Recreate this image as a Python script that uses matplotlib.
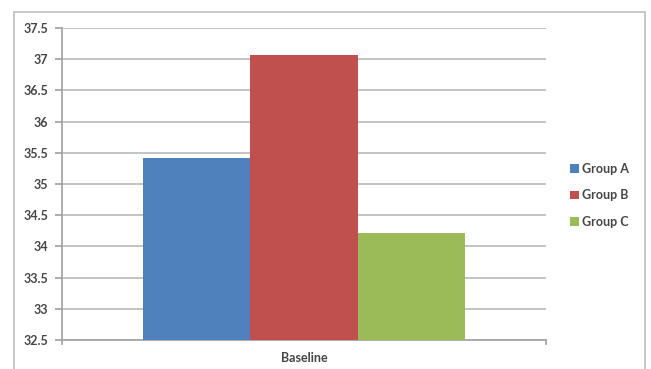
import matplotlib
matplotlib.use("Agg")
import matplotlib.pyplot as plt
from matplotlib.patches import Rectangle
import numpy as np

plt.rcParams['font.family'] = ['Lato', 'DejaVu Sans']

categories = ["Baseline"]
groups = ["Group A", "Group B", "Group C"]
values = [35.42, 37.07, 34.21]
colors = ["#4F81BD", "#C0504D", "#9BBB59"]
y_ticks = [32.5, 33, 33.5, 34, 34.5, 35, 35.5, 36, 36.5, 37, 37.5]
y_labels = ["32.5", "33", "33.5", "34", "34.5", "35", "35.5", "36", "36.5", "37", "37.5"]

TEXT_COLOR = "#454545"
FS = 9

W, H = 651, 369
fig = plt.figure(figsize=(W / 100, H / 100), dpi=100)
fig.patch.set_facecolor("white")

# outer chart frame
fig.patches.append(Rectangle((14 / W, -0.05), (645 - 14) / W, 1.05 - 12 / H,
                             transform=fig.transFigure, fill=False,
                             edgecolor="#C4C4C4", linewidth=1.3))

ax = fig.add_axes([62 / W, (H - 340) / H, (546 - 62) / W, (340 - 28) / H])

# Excel-style clustered columns: gap width 150%
n = len(groups)
gap = 1.5
bar_w = 1.0 / (n + gap)
x0 = 0.0
for i, (g, v, c) in enumerate(zip(groups, values, colors)):
    xpos = x0 - 0.5 + gap * bar_w / 2 + (i + 0.5) * bar_w
    ax.bar(xpos, v - y_ticks[0], bottom=y_ticks[0], width=bar_w,
           color=c, label=g, zorder=3, linewidth=0)

ax.set_xlim(-0.5, 0.5)
ax.set_ylim(y_ticks[0], y_ticks[-1])
ax.set_yticks(y_ticks)
ax.set_yticklabels(y_labels, fontweight="bold")
ax.set_xticks([0])
ax.set_xticklabels(categories, fontweight="bold")

ax.yaxis.grid(True, color="#BEBEBE", linewidth=1.3, zorder=0)
ax.set_axisbelow(True)
for s in ["top", "right"]:
    ax.spines[s].set_visible(False)
for s in ["left", "bottom"]:
    ax.spines[s].set_color("#A6A6A6")
    ax.spines[s].set_linewidth(1.3)

ax.tick_params(axis="y", length=5, color="#A6A6A6", width=1.3,
               labelsize=FS, labelcolor=TEXT_COLOR, pad=5)
ax.tick_params(axis="x", length=0, labelsize=FS, labelcolor=TEXT_COLOR, pad=9)
# category boundary ticks on the x axis
for xb in (-0.5, 0.5):
    ax.plot([xb, xb], [0, -0.012], transform=ax.get_xaxis_transform(),
            color="#A6A6A6", linewidth=1.3, clip_on=False)

leg = ax.legend(loc="upper left", bbox_to_anchor=(565 / W, 1 - 158 / H),
                bbox_transform=fig.transFigure, frameon=False,
                prop={"size": FS, "weight": "bold"},
                handlelength=0.7, handleheight=0.7,
                handletextpad=0.3, labelspacing=1.15, borderaxespad=0)
for t in leg.get_texts():
    t.set_color(TEXT_COLOR)

fig.savefig("out.png", dpi=100, facecolor="white")
